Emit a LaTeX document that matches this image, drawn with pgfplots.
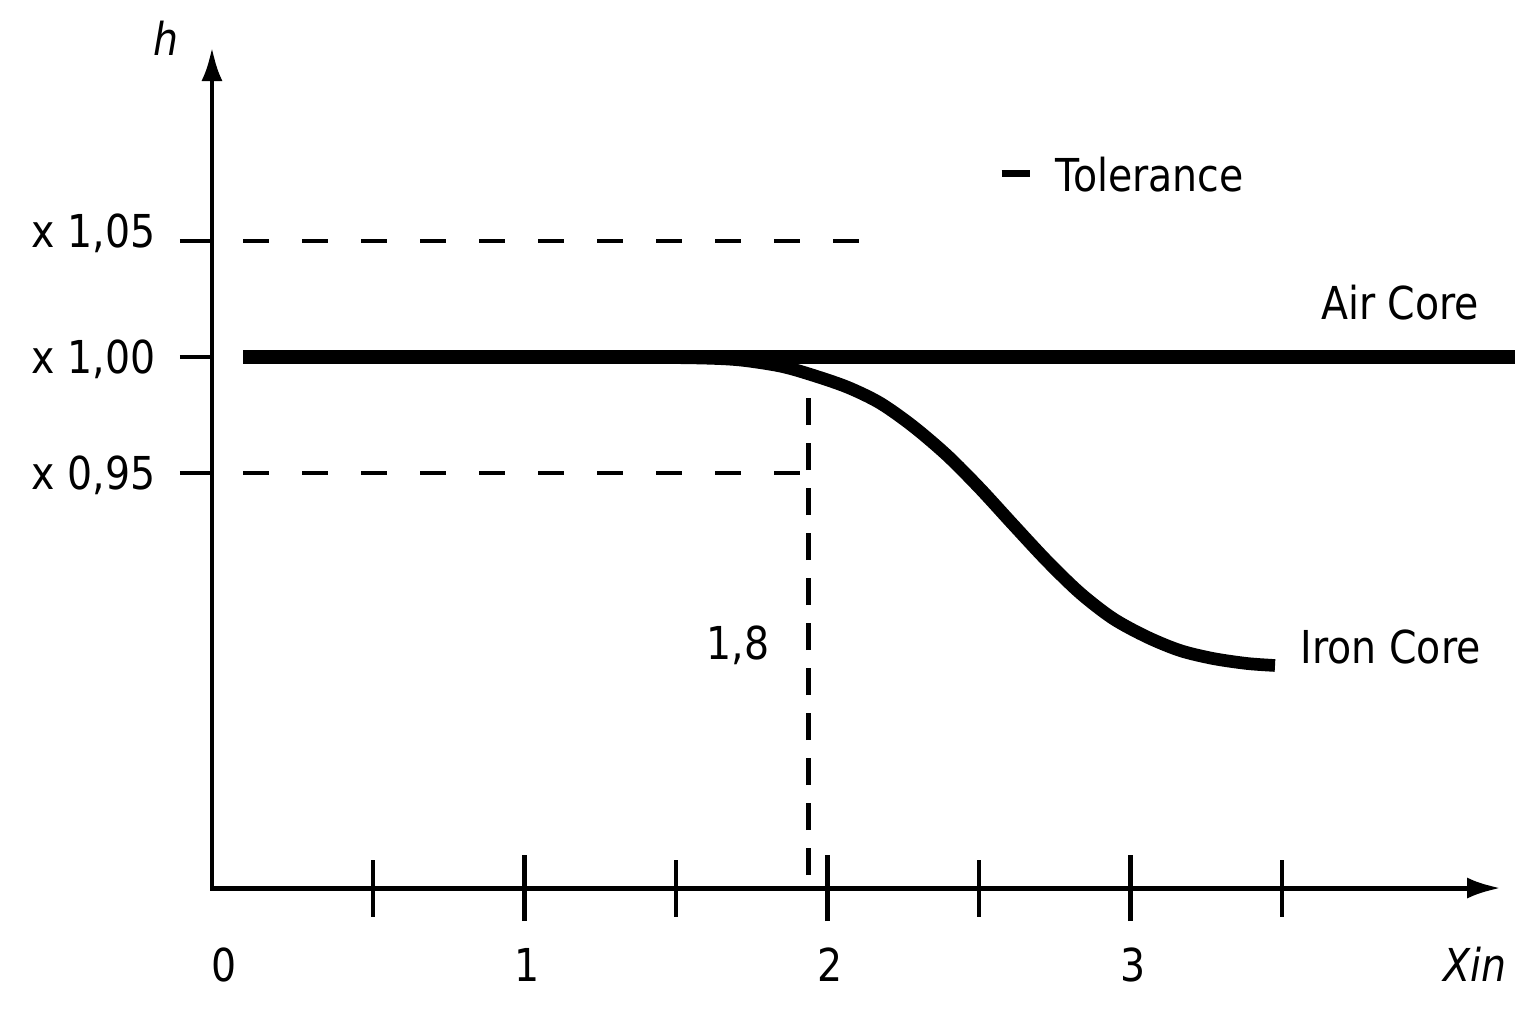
\documentclass[border=0pt]{standalone}
\usepackage{pgfplots}
\pgfplotsset{compat=1.18}
\usepackage{fontspec}
\setmainfont{DejaVu Sans}[FakeStretch=0.87]
\usetikzlibrary{arrows.meta}
\begin{document}
\begin{tikzpicture}[font=\fontsize{12.9}{15}\selectfont]
\begin{axis}[
  x=3.03cm, y=23.2cm,
  xmin=-0.0314, xmax=4.223, ymin=0.7711, ymax=1.1336,
  axis lines=left,
  axis line style={line width=1.4pt, line cap=rect, -{Latex[length=0.34cm,width=0.21cm]}},
  clip=false,
  /pgf/number format/assume math mode=true,
  every tick/.style={black, line width=1.3pt},
  xtick={1,2,3}, xticklabels={1,2,3},
  minor xtick={0.5,1.5,2.5,3.5},
  major tick length=0.66cm, minor tick length=0.57cm,
  xtick align=center,
  extra x ticks={0}, extra x tick labels={0},
  extra x tick style={major tick length=0pt, xticklabel style={yshift=-0.33cm}},
  xticklabel style={anchor=base, inner sep=0pt, yshift=-0.60cm, xshift=0.03cm},
  ytick=\empty,
  extra y ticks={0.95,1,1.05},
  extra y tick labels={{x 0,95},{x 1,00},{\raisebox{0.1cm}{x 1,05}}},
  extra y tick style={major tick length=0.32cm, ytick align=outside,
     yticklabel style={anchor=base east, inner sep=0pt, xshift=-0.24cm, yshift=-0.165cm}},
]
\path (axis cs:-0.731,0.7125) rectangle (axis cs:4.335,1.15388);
% tolerance lines
\addplot[line width=1.4pt, dash pattern=on 0.26cm off 0.33cm] coordinates {(0.071,1.05) (2.124,1.05)};
\addplot[line width=1.4pt, dash pattern=on 0.26cm off 0.33cm] coordinates {(0.071,0.95) (1.936,0.95)};
\addplot[line width=1.4pt, dash pattern=on 0.27cm off 0.18cm] coordinates {(1.936,0.7767) (1.936,0.9935)};
% Air core
\addplot[line width=3.9pt] coordinates {(0.071,1) (4.269,1)};
% Iron core
\addplot[line width=3.6pt, smooth] coordinates {
(1.300,1.0) (1.5792,0.99957) (1.7112,0.99871) (1.8432,0.99612) (1.9422,0.99254)
(2.0644,0.98707) (2.1733,0.98017) (2.2822,0.97013) (2.3944,0.95763)
(2.5033,0.94332) (2.6122,0.92780) (2.7244,0.91207) (2.8333,0.89828)
(2.9422,0.88728) (3.0545,0.87931) (3.1634,0.87349) (3.2723,0.87004)
(3.3845,0.86789) (3.4769,0.86703)};
\node[anchor=center, inner sep=0pt, font=\fontsize{12.9}{15}\selectfont\itshape] at (axis cs:-0.183,1.1375) {h};
\node[anchor=base, inner sep=0pt, font=\fontsize{12.9}{15}\selectfont\itshape] at (axis cs:4.137,0.73103) {Xin};
\node[anchor=base west, inner sep=0pt] at (axis cs:2.5726,1.07112) {\rule[0.145cm]{0.28cm}{0.07cm}\hspace{0.26cm}Tolerance};
\node[anchor=base, inner sep=0pt] at (axis cs:3.890,1.01595) {Air Core};
\node[anchor=base, inner sep=0pt] at (axis cs:3.8587,0.86810) {Iron Core};
\node[anchor=base, inner sep=0pt] at (axis cs:1.7046,0.86940) {1,8};
\end{axis}
\end{tikzpicture}
\end{document}
